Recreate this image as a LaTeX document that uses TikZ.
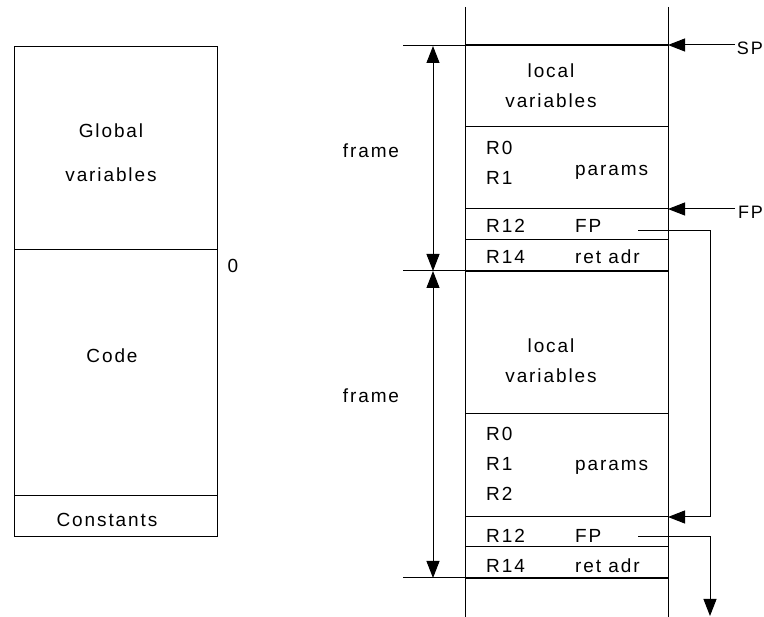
\documentclass[tikz,border=0pt]{standalone}
\usepackage{fontspec}
\setmainfont{Liberation Sans}[LetterSpace=10]
\usetikzlibrary{arrows.meta}
\begin{document}
\begin{tikzpicture}[x=1pt,y=-1pt,
  every node/.style={inner sep=0pt, font=\fontsize{19}{30}\selectfont},
  lbl/.style={anchor=base},
  lblw/.style={anchor=base west},
  lble/.style={anchor=base east},
  thinl/.style={line width=1pt},
  thickl/.style={line width=2pt},
  tip/.style={thinl,-{Triangle[length=17pt,width=13pt]}},
  dim/.style={thinl,{Triangle[length=17pt,width=13pt]}-{Triangle[length=17pt,width=13pt]}}]
\useasboundingbox (0,0) rectangle (764,617);
% ---------- left memory map ----------
\draw[thinl] (14,47) rectangle (217,537);
\draw[thinl] (14,250) -- (217,250);
\draw[thinl] (14,496) -- (217,496);
\node[lbl] (glob)  at (111,138) {Global};
\node[lbl] (globv) at (111,182) {variables};
\node[lbl] (code)  at (112,363) {Code};
\node[lbl] (const) at (107,527) {Constants};
\node[lbl] (zero)  at (233,273) {0};
% ---------- stack ----------
\coordinate (stL) at (465,7);   \coordinate (stLb) at (465,617);
\coordinate (stR) at (668,7);   \coordinate (stRb) at (668,617);
\draw[thinl] (stL) -- (stLb);
\draw[thinl] (stR) -- (stRb);
% frame boundaries
\coordinate (t1L) at (465,45);  \coordinate (t1R) at (668,45);  \coordinate (t1X) at (403,46);
\coordinate (t2L) at (465,271); \coordinate (t2R) at (668,271); \coordinate (t2X) at (403,271);
\coordinate (t3L) at (465,578); \coordinate (t3R) at (668,578); \coordinate (t3X) at (403,578);
\draw[thickl] (t1L) -- (t1R);
\draw[thickl] (t2L) -- (t2R);
\draw[thickl] (t3L) -- (t3R);
\draw[thinl] (t1X) -- (t1L |- t1X);
\draw[thinl] (t2X) -- (t2L);
\draw[thinl] (t3X) -- (t3L);
% inner lines
\foreach \y/\n in {127/a,209/b,240/c,414/d,517/e,547/f}{
  \coordinate (l\n L) at (465,\y); \coordinate (l\n R) at (668,\y);
  \draw[thinl] (l\n L) -- (l\n R);
}
% frame dimension arrows
\coordinate (d1) at (433,46);
\coordinate (d2) at (433,271);
\coordinate (d3) at (433,578);
\draw[dim] (d1) -- (d2);
\draw[dim] (d2) -- (d3);
\node[lbl] (fr1) at (371,158) {frame};
\node[lbl] (fr2) at (371,403) {frame};
% upper frame texts
\node[lbl]  (lv1a) at (551,78)  {local};
\node[lbl]  (lv1b) at (551,108) {variables};
\node[lblw] (r0a)  at (486,155) {R0};
\node[lblw] (r1a)  at (486,185) {R1};
\node[lblw] (pa)   at (575,176) {params};
\node[lblw] (r12a) at (486,233) {R12};
\node[lblw] (fpa)  at (575,233) {FP};
\node[lblw] (r14a) at (486,264) {R14};
\node[lblw] (ra)   at (575,264) {ret adr};
% lower frame texts
\node[lbl]  (lv2a) at (551,353) {local};
\node[lbl]  (lv2b) at (551,383) {variables};
\node[lblw] (r0b)  at (486,441) {R0};
\node[lblw] (r1b)  at (486,471) {R1};
\node[lblw] (r2b)  at (486,501) {R2};
\node[lblw] (pb)   at (575,471) {params};
\node[lblw] (r12b) at (486,543) {R12};
\node[lblw] (fpb)  at (575,543) {FP};
\node[lblw] (r14b) at (486,573) {R14};
\node[lblw] (rb)   at (575,573) {ret adr};
% SP / FP pointers
\node[lble, font=\fontsize{18}{22}\selectfont] (splab) at (763,55)  {SP};
\node[lble, font=\fontsize{18}{22}\selectfont] (fplab) at (763,219) {FP};
\draw[tip] (735,45) -- (t1R);
\draw[tip] (735,209) -- (lbR);
% saved FP links
\coordinate (s1) at (638,231);
\coordinate (s1c) at (710,231);
\draw[tip] (s1) -- (s1c) -- (s1c |- leR) -- (leR);
\coordinate (s2) at (638,537);
\coordinate (s2c) at (710,537);
\coordinate (s2e) at (710,616);
\draw[tip] (s2) -- (s2c) -- (s2e);
\end{tikzpicture}
\end{document}
